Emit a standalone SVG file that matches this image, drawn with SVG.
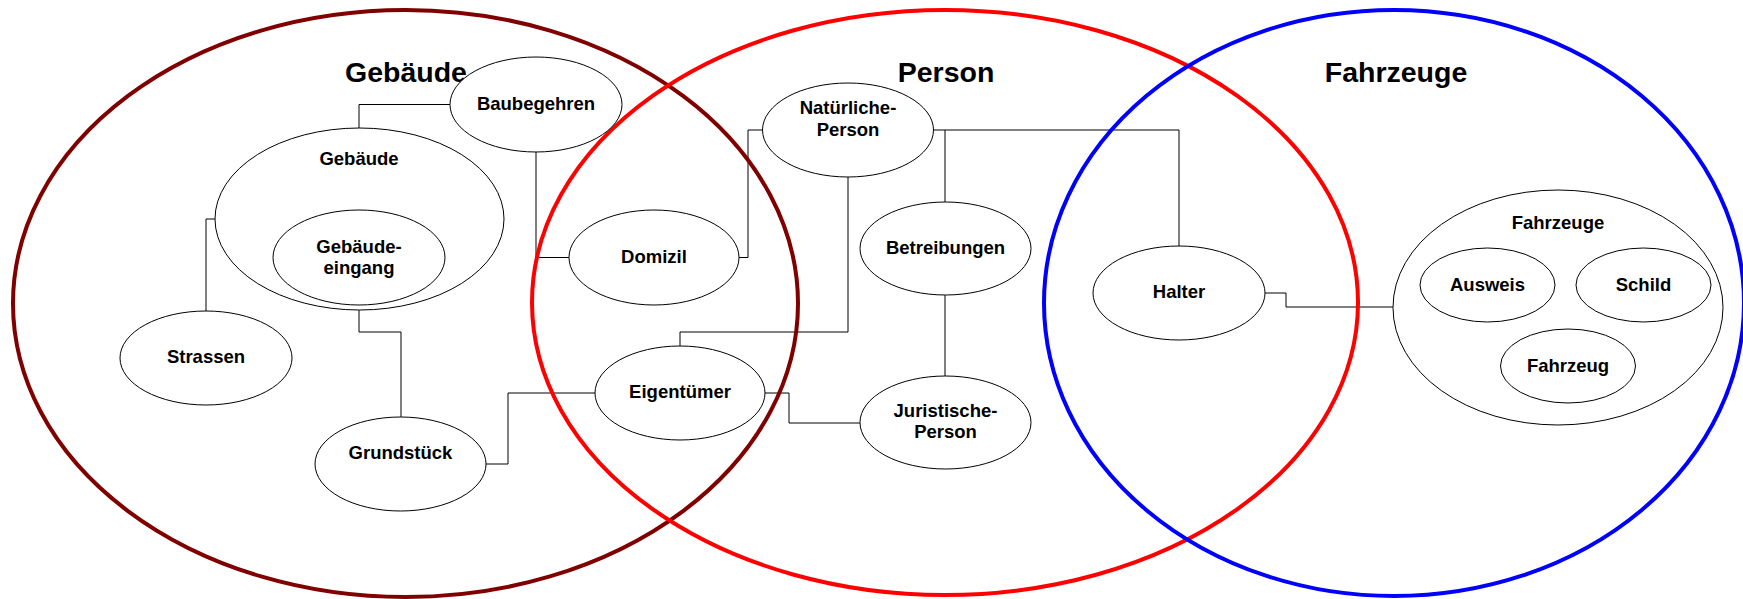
<svg xmlns="http://www.w3.org/2000/svg" width="1743" height="599" viewBox="0 0 1743 599">
<style>
.node{fill:#fff;stroke:#000;stroke-width:1}
.lbl{font-family:"Liberation Sans",Arial,sans-serif;font-weight:bold;font-size:18.5px;text-anchor:middle;fill:#000}
.ttl{font-family:"Liberation Sans",Arial,sans-serif;font-weight:bold;font-size:28.5px;text-anchor:middle;fill:#000}
.conn{fill:none;stroke:#000;stroke-width:1}
.set{fill:none;stroke-width:4}
</style>
<rect width="1743" height="599" fill="#fff"/>
<g id="connectors">
<polyline class="conn" points="450,104.5 359,104.5 359,128"/>
<polyline class="conn" points="536,152 536,257.5 569,257.5"/>
<polyline class="conn" points="215,219 206,219 206,311"/>
<polyline class="conn" points="359,310 359,332 401,332 401,417"/>
<polyline class="conn" points="486,464 508,464 508,393 596,393"/>
<polyline class="conn" points="739,257.5 748,257.5 748,130 763,130"/>
<polyline class="conn" points="934,130 1179,130 1179,246"/>
<polyline class="conn" points="945,130 945,202"/>
<polyline class="conn" points="848,177 848,332 680,332 680,346"/>
<polyline class="conn" points="765,393 789,393 789,423 860,423"/>
<polyline class="conn" points="945,295 945,376"/>
<polyline class="conn" points="1265,293 1286,293 1286,307 1393,307"/>
</g>
<g id="set-gebaeude">
<ellipse class="set" stroke="#800000" cx="405.5" cy="303.5" rx="392.5" ry="293.5"/>
<text class="ttl" x="406" y="82">Gebäude</text>
</g>
<g id="set-person">
<ellipse class="set" stroke="#ff0000" cx="945" cy="302.5" rx="413" ry="292.5"/>
<text class="ttl" x="946" y="82">Person</text>
</g>
<g id="set-fahrzeuge">
<ellipse class="set" stroke="#0000ff" cx="1394" cy="303" rx="350" ry="293"/>
<text class="ttl" x="1396" y="82">Fahrzeuge</text>
</g>
<g id="baubegehren">
<ellipse class="node" cx="536" cy="104.5" rx="86" ry="47.5"/>
<text class="lbl" x="536" y="110">Baubegehren</text>
</g>
<g id="gebaeude">
<ellipse class="node" cx="359.5" cy="219" rx="144.5" ry="91"/>
<text class="lbl" x="359" y="165">Gebäude</text>
</g>
<g id="gebaeudeeingang">
<ellipse class="node" cx="359" cy="257.5" rx="86" ry="47.5"/>
<text class="lbl" x="359" y="253">Gebäude-</text>
<text class="lbl" x="359" y="274">eingang</text>
</g>
<g id="strassen">
<ellipse class="node" cx="206" cy="358" rx="86" ry="47"/>
<text class="lbl" x="206" y="363">Strassen</text>
</g>
<g id="grundstueck">
<ellipse class="node" cx="400.5" cy="464" rx="85.5" ry="47"/>
<text class="lbl" x="400.5" y="459">Grundstück</text>
</g>
<g id="domizil">
<ellipse class="node" cx="654" cy="257.5" rx="85" ry="47.5"/>
<text class="lbl" x="654" y="263">Domizil</text>
</g>
<g id="natuerliche-person">
<ellipse class="node" cx="848" cy="130" rx="85.5" ry="47"/>
<text class="lbl" x="848" y="114">Natürliche-</text>
<text class="lbl" x="848" y="136">Person</text>
</g>
<g id="betreibungen">
<ellipse class="node" cx="945.5" cy="248.5" rx="85.5" ry="46.5"/>
<text class="lbl" x="945.5" y="254">Betreibungen</text>
</g>
<g id="eigentuemer">
<ellipse class="node" cx="680" cy="393" rx="85" ry="47"/>
<text class="lbl" x="680" y="398">Eigentümer</text>
</g>
<g id="juristische-person">
<ellipse class="node" cx="945.5" cy="422.5" rx="85.5" ry="46.5"/>
<text class="lbl" x="945.5" y="417">Juristische-</text>
<text class="lbl" x="945.5" y="438">Person</text>
</g>
<g id="halter">
<ellipse class="node" cx="1179" cy="293" rx="86" ry="47"/>
<text class="lbl" x="1179" y="298">Halter</text>
</g>
<g id="fahrzeuge">
<ellipse class="node" cx="1558" cy="307.5" rx="165" ry="117.5"/>
<text class="lbl" x="1558" y="229">Fahrzeuge</text>
</g>
<g id="ausweis">
<ellipse class="node" cx="1487.5" cy="285" rx="67.5" ry="37"/>
<text class="lbl" x="1487.5" y="291">Ausweis</text>
</g>
<g id="schild">
<ellipse class="node" cx="1643.5" cy="285" rx="67.5" ry="37"/>
<text class="lbl" x="1643.5" y="291">Schild</text>
</g>
<g id="fahrzeug">
<ellipse class="node" cx="1568" cy="366" rx="67.5" ry="37"/>
<text class="lbl" x="1568" y="372">Fahrzeug</text>
</g>
</svg>
